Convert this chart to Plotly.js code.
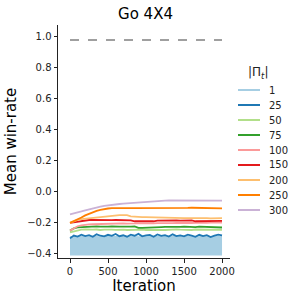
<!DOCTYPE html>
<html><head><meta charset="utf-8">
<script src="https://cdn.plot.ly/plotly-3.0.1.min.js"></script>
<style>html,body{margin:0;padding:0;background:#fff}#c{width:297px;height:304px}</style>
</head><body><div id="c"></div>
<script>
const iters = [0,50,100,150,200,250,300,350,400,450,500,550,600,650,700,750,800,850,900,950,1000,1050,1100,1150,1200,1250,1300,1350,1400,1450,1500,1550,1600,1650,1700,1750,1800,1850,1900,1950,2000];
const labels = ['1','25','50','75','100','150','200','250','300'];
const colors = ['#a6cee3','#1f78b4','#b2df8a','#33a02c','#fb9a99','#e31a1c','#fdbf6f','#ff7f00','#cab2d6'];
const refX = [0, 2000];
const refY = [0.975, 0.975];
const s1Low = [-0.41,-0.41,-0.41,-0.41,-0.41,-0.41,-0.41,-0.41,-0.41,-0.41,-0.41,-0.41,-0.41,-0.41,-0.41,-0.41,-0.41,-0.41,-0.41,-0.41,-0.41,-0.41,-0.41,-0.41,-0.41,-0.41,-0.41,-0.41,-0.41,-0.41,-0.41,-0.41,-0.41,-0.41,-0.41,-0.41,-0.41,-0.41,-0.41,-0.41,-0.41];
const s1 = [-0.292,-0.29,-0.291,-0.289,-0.292,-0.29,-0.291,-0.29,-0.292,-0.289,-0.291,-0.29,-0.29,-0.292,-0.29,-0.291,-0.289,-0.29,-0.292,-0.29,-0.291,-0.29,-0.292,-0.29,-0.289,-0.291,-0.29,-0.292,-0.29,-0.291,-0.29,-0.289,-0.292,-0.29,-0.291,-0.29,-0.292,-0.29,-0.291,-0.29,-0.29];
const s25 = [-0.300,-0.282,-0.288,-0.276,-0.285,-0.279,-0.290,-0.274,-0.283,-0.287,-0.277,-0.284,-0.272,-0.286,-0.280,-0.289,-0.276,-0.283,-0.271,-0.287,-0.281,-0.278,-0.290,-0.275,-0.284,-0.279,-0.288,-0.274,-0.285,-0.281,-0.287,-0.276,-0.283,-0.290,-0.277,-0.285,-0.279,-0.291,-0.282,-0.276,-0.280];
const s50 = [-0.262,-0.255,-0.246,-0.244,-0.243,-0.245,-0.244,-0.243,-0.246,-0.244,-0.242,-0.244,-0.245,-0.243,-0.244,-0.246,-0.245,-0.243,-0.242,-0.244,-0.246,-0.245,-0.244,-0.243,-0.245,-0.246,-0.244,-0.243,-0.242,-0.244,-0.245,-0.247,-0.246,-0.243,-0.244,-0.245,-0.244,-0.243,-0.246,-0.247,-0.245];
const s75 = [-0.250,-0.236,-0.229,-0.227,-0.226,-0.224,-0.225,-0.223,-0.224,-0.226,-0.225,-0.223,-0.222,-0.224,-0.225,-0.226,-0.224,-0.223,-0.232,-0.233,-0.231,-0.230,-0.229,-0.228,-0.227,-0.226,-0.227,-0.228,-0.227,-0.226,-0.225,-0.226,-0.227,-0.228,-0.224,-0.225,-0.226,-0.227,-0.229,-0.230,-0.230];
const s100 = [-0.250,-0.236,-0.222,-0.216,-0.212,-0.210,-0.209,-0.208,-0.207,-0.206,-0.206,-0.205,-0.205,-0.204,-0.204,-0.205,-0.206,-0.204,-0.203,-0.204,-0.205,-0.204,-0.203,-0.202,-0.203,-0.204,-0.203,-0.202,-0.201,-0.202,-0.203,-0.202,-0.201,-0.200,-0.201,-0.202,-0.200,-0.199,-0.199,-0.198,-0.198];
const s150 = [-0.200,-0.196,-0.190,-0.186,-0.184,-0.182,-0.181,-0.182,-0.183,-0.182,-0.182,-0.183,-0.182,-0.182,-0.183,-0.182,-0.184,-0.190,-0.191,-0.190,-0.190,-0.191,-0.190,-0.186,-0.185,-0.186,-0.185,-0.184,-0.185,-0.186,-0.185,-0.185,-0.184,-0.190,-0.190,-0.189,-0.190,-0.189,-0.188,-0.188,-0.188];
const s200 = [-0.200,-0.190,-0.181,-0.176,-0.173,-0.171,-0.170,-0.168,-0.165,-0.160,-0.155,-0.152,-0.152,-0.150,-0.150,-0.151,-0.158,-0.161,-0.163,-0.164,-0.164,-0.165,-0.165,-0.165,-0.166,-0.166,-0.168,-0.170,-0.170,-0.169,-0.170,-0.170,-0.169,-0.170,-0.171,-0.170,-0.170,-0.171,-0.170,-0.170,-0.170];
const s250 = [-0.200,-0.190,-0.180,-0.166,-0.152,-0.141,-0.131,-0.123,-0.117,-0.111,-0.108,-0.106,-0.105,-0.105,-0.105,-0.105,-0.105,-0.106,-0.106,-0.107,-0.108,-0.108,-0.107,-0.107,-0.106,-0.106,-0.106,-0.105,-0.104,-0.104,-0.104,-0.104,-0.103,-0.103,-0.103,-0.103,-0.104,-0.106,-0.107,-0.107,-0.107];
const s300 = [-0.145,-0.140,-0.134,-0.127,-0.120,-0.113,-0.107,-0.101,-0.096,-0.091,-0.087,-0.084,-0.081,-0.079,-0.077,-0.075,-0.072,-0.069,-0.067,-0.065,-0.063,-0.061,-0.060,-0.059,-0.058,-0.057,-0.056,-0.056,-0.056,-0.056,-0.055,-0.055,-0.055,-0.056,-0.056,-0.056,-0.056,-0.057,-0.057,-0.057,-0.057];
const yTicks = [-0.4,-0.2,0.0,0.2,0.4,0.6,0.8,1.0];
const yTickText = ['−0.4','−0.2','0.0','0.2','0.4','0.6','0.8','1.0'];
const xTicks = [0,500,1000,1500,2000];
const legendTitle = '|Π<sub><i>t</i></sub>|';

const series = [s1,s25,s50,s75,s100,s150,s200,s250,s300];
const traces = [];
traces.push({x: iters, y: s1Low, mode:'lines', line:{width:0, color:colors[0]}, showlegend:false, hoverinfo:'skip'});
traces.push({x: iters, y: s1, mode:'lines', fill:'tonexty', fillcolor:colors[0], line:{width:0, color:colors[0]}, showlegend:false, hoverinfo:'skip'});
for (let i = 0; i < series.length; i++) {
  traces.push({x: iters, y: series[i], mode:'lines', name: labels[i], line:{color: colors[i], width:1.8}, showlegend:false});
}
traces.push({x: refX, y: refY, mode:'lines', line:{color:'#808080', width:1.5, dash:'dash'}, showlegend:false});

// plot area geometry (pixels) used for a compact legend
const W = 297, H = 304, L = 58, R = 67, T = 25, B = 46;
const pw = W - L - R, ph = H - T - B;
const px = v => (v - L) / pw;
const py = v => (H - B - v) / ph;
const shapes = [], annotations = [];
annotations.push({xref:'paper', yref:'paper', x: px(258), y: py(73), text: legendTitle, showarrow:false,
  xanchor:'center', yanchor:'middle', font:{size:12, color:'#222'}});
for (let i = 0; i < labels.length; i++) {
  const yy = 90 + 15 * i;
  shapes.push({type:'line', xref:'paper', yref:'paper', x0: px(238), x1: px(260), y0: py(yy), y1: py(yy),
    line:{color: colors[i], width:2}});
  annotations.push({xref:'paper', yref:'paper', x: px(267), y: py(yy), text: labels[i], showarrow:false,
    xanchor:'left', yanchor:'middle', font:{size:10, color:'#222'}});
}

const font = {family:'DejaVu Sans, sans-serif', color:'#222', size:10};
Plotly.newPlot('c', traces, {
  width:W, height:H,
  margin:{l:L, r:R, t:T, b:B, autoexpand:false},
  paper_bgcolor:'#fff', plot_bgcolor:'#fff',
  font: font, showlegend:false,
  title:{text:'Go 4X4', font:{size:15, color:'#000'}, x:0.49, xanchor:'center', y:0.955, yanchor:'middle'},
  xaxis:{range:[-158,2105], tickvals:xTicks, ticks:'outside', ticklen:3.5, tickcolor:'#222', showgrid:false, zeroline:false,
         showline:true, linecolor:'#222', linewidth:1, title:{text:'Iteration', font:{size:15, color:'#000'}, standoff:4}},
  yaxis:{range:[-0.426,1.071], tickvals:yTicks, ticktext:yTickText, ticks:'outside', ticklen:3.5, tickcolor:'#222', showgrid:false, zeroline:false,
         showline:true, linecolor:'#222', linewidth:1, title:{text:'Mean win-rate', font:{size:15, color:'#000'}, standoff:6}},
  shapes: shapes, annotations: annotations
}, {displayModeBar:false, staticPlot:true});
</script></body></html>
